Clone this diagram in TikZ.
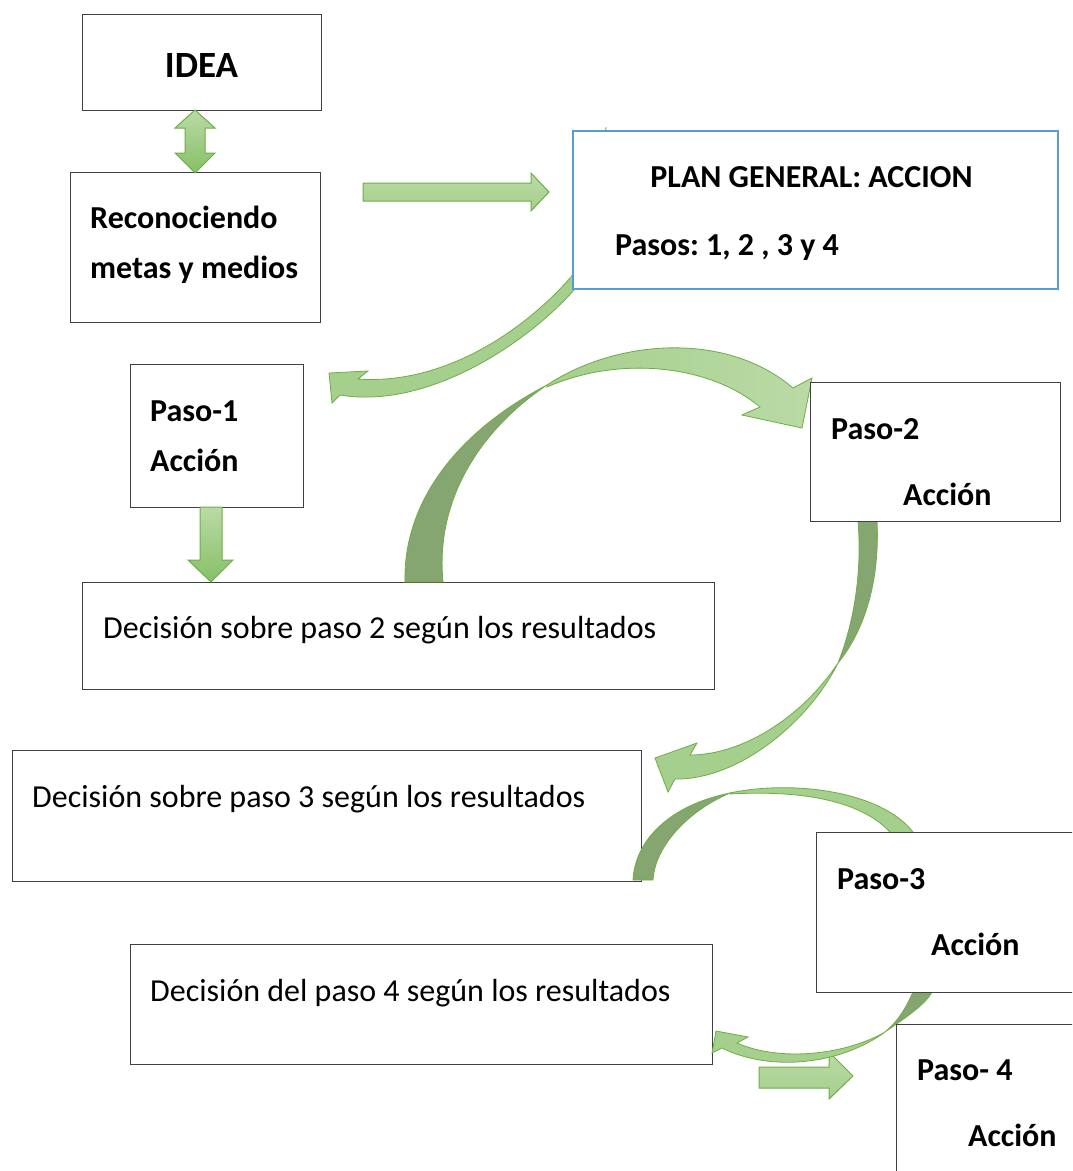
\documentclass[tikz,border=0pt]{standalone}
\usepackage{fontspec}
\setmainfont{Carlito}
\frenchspacing
\definecolor{gLight}{RGB}{186,218,166}
\definecolor{gMid}{RGB}{165,207,140}
\definecolor{gDark}{RGB}{134,192,102}
\definecolor{gEdge}{RGB}{112,173,71}
\definecolor{gBack}{RGB}{133,166,113}
\definecolor{boxline}{RGB}{64,64,64}
\definecolor{planblue}{RGB}{91,155,213}
\begin{document}
\begin{tikzpicture}[x=1pt,y=-1pt,
  box/.style={draw=boxline, line width=1.3pt, fill=white, anchor=north west, inner sep=0pt},
  planbox/.style={box, draw=planblue, line width=2pt},
  lbl/.style={font=\bfseries\fontsize{32}{32}\selectfont, anchor=base west, inner sep=0pt},
  txt/.style={font=\fontsize{32}{32}\selectfont, anchor=base west, inner sep=0pt},
  blockarrow/.style={draw=gEdge, line width=1pt, top color=gLight, bottom color=gDark},
  band/.style={draw=gEdge, line width=0.8pt, fill=gMid},
  bandback/.style={draw=gEdge, line width=0.8pt, fill=gBack}]

\clip (0,0) rectangle (1072,1171);
\fill[white] (0,0) rectangle (1072,1171);

% boxes lying underneath the arrows
\node[box, minimum width=239pt, minimum height=96pt] (idea) at (82,14) {};
\node[font=\bfseries\fontsize{37}{37}\selectfont, anchor=base, inner sep=0pt] (ideaT) at (201.5,77) {IDEA};

\node[box, minimum width=250pt, minimum height=150pt] (reco) at (70,172) {};
\node[lbl] (reco1) at (90,228) {Reconociendo};
\node[lbl] (reco2) at (90,278) {metas y medios};

\node[box, minimum width=173pt, minimum height=143pt] (p1) at (130,364) {};
\node[lbl] (p1a) at (150,421) {Paso-1};
\node[lbl] (p1b) at (150,471) {Acción};

\node[box, minimum width=632pt, minimum height=107pt] (d2) at (82,582) {};
\node[txt] (d2t) at (103,638) {Decisión sobre paso 2 según los resultados};

\node[box, minimum width=629pt, minimum height=131pt] (d3) at (12,750) {};
\node[txt] (d3t) at (32,807) {Decisión sobre paso 3 según los resultados};

\node[box, minimum width=582pt, minimum height=120pt] (d4) at (130,944) {};
\node[txt] (d4t) at (150,1001) {Decisión del paso 4 según los resultados};

% straight block arrows
\path[blockarrow] (195,110) -- (215,128) -- (205,128) -- (205,153) -- (215,153)
  -- (195,173) -- (175,153) -- (185,153) -- (185,128) -- (175,128) -- cycle;
\path[blockarrow, bottom color=gMid] (363,183) -- (531,183) -- (531,173) -- (549,192)
  -- (531,211) -- (531,201) -- (363,201) -- cycle;
\path[blockarrow] (200,507) -- (222,507) -- (222,560) -- (233,560) -- (211,582)
  -- (188,560) -- (200,560) -- cycle;
\path[blockarrow, top color=gLight, bottom color=gMid] (759,1067) -- (829,1067) -- (829,1052) -- (853,1076)
  -- (829,1099) -- (829,1088) -- (759,1088) -- cycle;

% curved arrow: plan -> paso 1
\path[band] (606,127) .. controls (598,200) and (590,250) .. (571,277)
  .. controls (520,335) and (440,385) .. (358,379) -- (368,371) -- (329,373)
  -- (332,403) -- (340,395) .. controls (430,410) and (530,340) .. (574,290)
  .. controls (592,260) and (604,200) .. (606,127) -- cycle;

% curved arrow: decision 2 -> paso 2
\path[bandback] (405,582) .. controls (403,500) and (460,430) .. (547,385)
  .. controls (480,430) and (435,500) .. (443,582) -- cycle;
\path[band, left color=gMid, right color=gLight] (547,385) .. controls (615,340) and (725,330) .. (793,388)
  -- (812,378) -- (802,428) -- (742,415) -- (760,407)
  .. controls (710,365) and (620,355) .. (547,387) -- cycle;

% curved arrow: paso 2 -> decision 3
\path[bandback] (858,515) -- (877,515) -- (877,521) .. controls (880,580) and (865,630) .. (838,663)
  .. controls (855,620) and (862,570) .. (858,521) -- cycle;
\path[band] (838,663) .. controls (800,720) and (740,755) .. (690,755) -- (697,743)
  -- (655,758) -- (668,792) -- (675,779) .. controls (740,780) and (810,720) .. (838,663) -- cycle;

% curved arrow: decision 3 -> paso 3
\path[bandback] (633,880) .. controls (635,840) and (670,805) .. (730,793)
  .. controls (690,810) and (655,845) .. (653,880) -- cycle;
\path[band] (730,793) .. controls (790,780) and (880,790) .. (913,832) -- (920,850)
  -- (896,850) -- (890,832) .. controls (860,800) and (800,790) .. (730,794) -- cycle;

% curved arrow: paso 3 -> decision 4
\path[bandback] (913,985) -- (934,985) -- (932,992) .. controls (925,1005) and (905,1018) .. (885,1032)
  .. controls (897,1022) and (905,1010) .. (913,992) -- cycle;
\path[band] (885,1032) .. controls (840,1065) and (770,1072) .. (722,1048) -- (712,1053)
  -- (716,1031) -- (748,1037) -- (737,1043) .. controls (780,1062) and (845,1055) .. (885,1032) -- cycle;

% boxes lying on top of the arrows
\node[planbox, minimum width=485pt, minimum height=158pt] (plan) at (572,130) {};
\node[font=\bfseries\fontsize{32}{32}\selectfont, anchor=base, inner sep=0pt] (planT) at (811.5,187) {PLAN GENERAL: ACCION};
\node[lbl] (pasos) at (615,255) {Pasos: 1, 2 , 3 y 4};

\node[box, minimum width=250pt, minimum height=139pt] (p2) at (810,382) {};
\node[lbl] (p2a) at (831,439) {Paso-2};
\node[lbl] (p2b) at (903,505) {Acción};

\node[box, minimum width=300pt, minimum height=160pt] (p3) at (816,832) {};
\node[lbl] (p3a) at (837,889) {Paso-3};
\node[lbl] (p3b) at (931,955) {Acción};

\node[box, minimum width=250pt, minimum height=200pt] (p4) at (896,1024) {};
\node[lbl] (p4a) at (917,1080) {Paso- 4};
\node[lbl] (p4b) at (968,1146) {Acción};
\end{tikzpicture}
\end{document}
